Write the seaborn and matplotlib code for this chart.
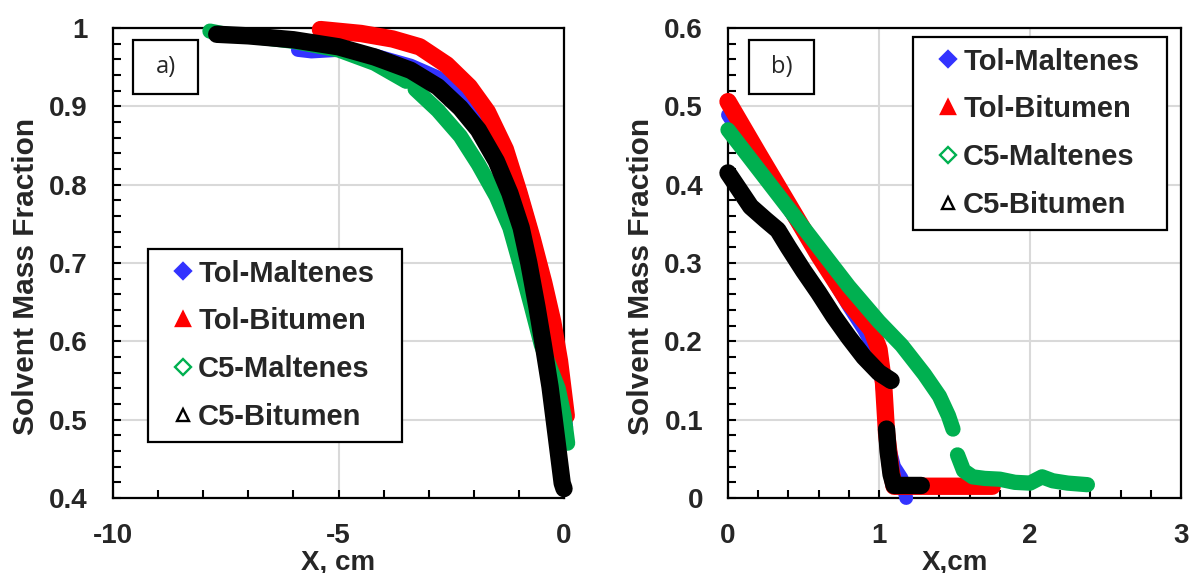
import numpy as np
import pandas as pd
import matplotlib
matplotlib.use("Agg")
import matplotlib.pyplot as plt
from matplotlib.lines import Line2D
from matplotlib.patches import Rectangle
from matplotlib.ticker import MultipleLocator, FixedLocator, FixedFormatter
import seaborn as sns

# ---------------- data ----------------
series_names = ["Tol-Maltenes", "Tol-Bitumen", "C5-Maltenes", "C5-Bitumen"]
series_colors = ["#3333ff", "#ff0000", "#00b050", "#000000"]

# panel a
a_tolmal_x = [-5.9, -5.6, -5.0, -4.2, -3.4, -2.8, -2.2, -1.7, -1.3, -1.0, -0.7, -0.45, -0.2, 0.05]
a_tolmal_y = [0.972, 0.970, 0.972, 0.965, 0.952, 0.937, 0.915, 0.880, 0.840, 0.795, 0.735, 0.675, 0.600, 0.490]
a_tolmal_seg = [0] * 14

a_tolbit_x = [-5.4, -4.5, -3.8, -3.2, -2.6, -2.1, -1.7, -1.3, -1.0, -0.7, -0.45, -0.25, -0.1, 0.05]
a_tolbit_y = [0.998, 0.993, 0.986, 0.976, 0.953, 0.925, 0.893, 0.845, 0.790, 0.730, 0.675, 0.625, 0.575, 0.505]
a_tolbit_seg = [0] * 14

a_c5mal_x = [-7.85, -7.5, -7.0, -6.0, -5.0, -4.2, -3.5, -3.3, -2.8, -2.3, -1.9, -1.5, -1.2, -0.98, -0.72, -0.5, -0.3, -0.13, 0.0, 0.08]
a_c5mal_y = [0.996, 0.992, 0.990, 0.983, 0.972, 0.955, 0.932, 0.922, 0.895, 0.862, 0.826, 0.785, 0.745, 0.700, 0.644, 0.595, 0.565, 0.540, 0.505, 0.470]
a_c5mal_seg = [0] * 7 + [1] * 13

a_c5bit_x = [-7.7, -7.0, -6.0, -5.0, -4.2, -3.4, -2.8, -2.3, -1.9, -1.5, -1.2, -0.95, -0.78, -0.6, -0.46, -0.31, -0.18, -0.04, 0.0]
a_c5bit_y = [0.992, 0.990, 0.985, 0.976, 0.963, 0.946, 0.925, 0.898, 0.870, 0.830, 0.789, 0.745, 0.700, 0.644, 0.596, 0.542, 0.483, 0.419, 0.412]
a_c5bit_seg = [0] * 19

# panel b
b_tolmal_x = [0.0, 0.2, 0.4, 0.6, 0.8, 0.9, 1.0, 1.03, 1.06, 1.1, 1.15, 1.18]
b_tolmal_y = [0.489, 0.43, 0.37, 0.31, 0.245, 0.215, 0.18, 0.13, 0.07, 0.04, 0.025, 0.0]
b_tolmal_seg = [0] * 12

b_tolbit_x = [0.0, 0.2, 0.4, 0.6, 0.8, 0.95, 1.0, 1.03, 1.05, 1.08, 1.1, 1.3, 1.5, 1.75]
b_tolbit_y = [0.506, 0.44, 0.375, 0.31, 0.25, 0.215, 0.19, 0.147, 0.083, 0.035, 0.015, 0.015, 0.015, 0.015]
b_tolbit_seg = [0] * 14

b_c5mal_x = [0.0, 0.2, 0.4, 0.6, 0.8, 1.0, 1.15, 1.3, 1.4, 1.46, 1.49, 1.52, 1.56, 1.62, 1.7, 1.8, 1.9, 2.0, 2.08, 2.15, 2.25, 2.38]
b_c5mal_y = [0.47, 0.42, 0.37, 0.32, 0.27, 0.225, 0.195, 0.158, 0.13, 0.105, 0.088, 0.055, 0.035, 0.027, 0.025, 0.024, 0.02, 0.019, 0.027, 0.022, 0.019, 0.017]
b_c5mal_seg = [0] * 11 + [1] * 11

b_c5bit_x = [0.0, 0.07, 0.15, 0.25, 0.33, 0.4, 0.5, 0.6, 0.7, 0.8, 0.9, 1.0, 1.08, 1.05, 1.06, 1.08, 1.1, 1.2, 1.28]
b_c5bit_y = [0.415, 0.395, 0.372, 0.355, 0.342, 0.32, 0.29, 0.262, 0.232, 0.205, 0.18, 0.16, 0.15, 0.088, 0.06, 0.03, 0.016, 0.016, 0.016]
b_c5bit_seg = [0] * 13 + [1] * 6

a_xticks = [-10, -5, 0]
a_xticklabels = ["-10", "-5", "0"]
a_yticks = [0.4, 0.5, 0.6, 0.7, 0.8, 0.9, 1.0]
a_yticklabels = ["0.4", "0.5", "0.6", "0.7", "0.8", "0.9", "1"]
b_xticks = [0, 1, 2, 3]
b_xticklabels = ["0", "1", "2", "3"]
b_yticks = [0.0, 0.1, 0.2, 0.3, 0.4, 0.5, 0.6]
b_yticklabels = ["0", "0.1", "0.2", "0.3", "0.4", "0.5", "0.6"]

# ---------------- style ----------------
sns.set_style("white")
plt.rcParams["font.family"] = ["Liberation Sans", "DejaVu Sans"]
plt.rcParams["font.weight"] = "bold"

W, H = 1189, 573
fig = plt.figure(figsize=(W / 100, H / 100), dpi=100)

def fig_rect(x0, y0, x1, y1):
    return [x0 / W, 1 - y1 / H, (x1 - x0) / W, (y1 - y0) / H]

A_PX = (113, 28, 564, 498)
B_PX = (728, 28, 1181, 498)
axA = fig.add_axes(fig_rect(*A_PX))
axB = fig.add_axes(fig_rect(*B_PX))

lw_map = [10, 12.5, 11, 12.5]

def draw(ax, data):
    for i, (xs, ys, seg) in enumerate(data):
        df = pd.DataFrame({"x": xs, "y": ys, "seg": seg})
        sns.lineplot(data=df, x="x", y="y", units="seg", estimator=None, sort=False,
                     color=series_colors[i], linewidth=lw_map[i], ax=ax,
                     solid_capstyle="round", solid_joinstyle="round",
                     clip_on=False, zorder=3 + i)

draw(axA, [(a_tolmal_x, a_tolmal_y, a_tolmal_seg), (a_tolbit_x, a_tolbit_y, a_tolbit_seg),
           (a_c5mal_x, a_c5mal_y, a_c5mal_seg), (a_c5bit_x, a_c5bit_y, a_c5bit_seg)])
draw(axB, [(b_tolmal_x, b_tolmal_y, b_tolmal_seg), (b_tolbit_x, b_tolbit_y, b_tolbit_seg),
           (b_c5mal_x, b_c5mal_y, b_c5mal_seg), (b_c5bit_x, b_c5bit_y, b_c5bit_seg)])

def style_axes(ax, xlim, ylim, xt, xtl, yt, ytl, xminor, yminor, xlabel):
    ax.set_xlim(*xlim)
    ax.set_ylim(*ylim)
    ax.xaxis.set_major_locator(FixedLocator(xt))
    ax.xaxis.set_major_formatter(FixedFormatter(xtl))
    ax.yaxis.set_major_locator(FixedLocator(yt))
    ax.yaxis.set_major_formatter(FixedFormatter(ytl))
    ax.xaxis.set_minor_locator(MultipleLocator(xminor))
    ax.yaxis.set_minor_locator(MultipleLocator(yminor))
    ax.grid(True, which="major", color="#d9d9d9", linewidth=1.5, zorder=0)
    ax.set_axisbelow(True)
    for s in ax.spines.values():
        s.set_visible(True)
        s.set_color("black")
        s.set_linewidth(1.6)
    ax.tick_params(which="both", direction="in", length=6, width=1.5, color="black",
                   top=False, right=False, bottom=True, left=True)
    ax.tick_params(axis="x", which="major", labelsize=20, pad=18)
    ax.tick_params(axis="y", which="major", labelsize=20, pad=18)
    for lab in ax.get_xticklabels() + ax.get_yticklabels():
        lab.set_fontweight("bold")
    ax.set_xlabel(xlabel, fontsize=20, fontweight="bold", labelpad=0)
    ax.set_ylabel("Solvent Mass Fraction", fontsize=21.5, fontweight="bold", labelpad=7, y=0.472)

style_axes(axA, (-10, 0), (0.4, 1.0), a_xticks, a_xticklabels, a_yticks, a_yticklabels, 1, 0.02, "X, cm")
style_axes(axB, (0, 3), (0.0, 0.6), b_xticks, b_xticklabels, b_yticks, b_yticklabels, 0.2, 0.02, "X,cm")

markers = ["D", "^", "D", "^"]
fills = [series_colors[0], series_colors[1], "white", "white"]
msizes = [8.5, 10, 8, 9]
handles = [Line2D([], [], linestyle="none", marker=markers[i], markersize=msizes[i],
                  markerfacecolor=fills[i], markeredgecolor=series_colors[i], markeredgewidth=1.7)
           for i in range(4)]

def add_legend(ax, ax_px, box_px):
    ax_x0, ax_y0, ax_x1, ax_y1 = ax_px
    bx0, by0, bx1, by1 = box_px
    aw, ah = ax_x1 - ax_x0, ax_y1 - ax_y0
    anchor = ((bx0 - ax_x0) / aw, (ax_y1 - by1) / ah, (bx1 - bx0) / aw, (by1 - by0) / ah)
    leg = ax.legend(handles, series_names, loc="upper left", bbox_to_anchor=anchor, mode="expand",
                    borderaxespad=0, frameon=True, fancybox=False, framealpha=1,
                    edgecolor="black", handlelength=1.66, handletextpad=-0.3,
                    borderpad=0.36, labelspacing=0.68, markerscale=1.0,
                    prop={"family": "Liberation Sans", "weight": "bold", "size": 21})
    leg.get_frame().set_linewidth(1.6)
    leg.set_zorder(20)

add_legend(axA, A_PX, (148, 249, 402, 441))
add_legend(axB, B_PX, (913, 37, 1167, 227))

def add_tag(ax, text, box_px, ax_px):
    x0, y0, x1, y1 = box_px
    ax_x0, ax_y0, ax_x1, ax_y1 = ax_px
    aw, ah = ax_x1 - ax_x0, ax_y1 - ax_y0
    rx = (x0 - ax_x0) / aw
    ry = (ax_y1 - y1) / ah
    rect = Rectangle((rx, ry), (x1 - x0) / aw, (y1 - y0) / ah, transform=ax.transAxes,
                     facecolor="white", edgecolor="black", linewidth=1.6, zorder=15)
    ax.add_patch(rect)
    ax.text(rx + (x1 - x0) / aw / 2, ry + (y1 - y0) / ah / 2, text, transform=ax.transAxes,
            ha="center", va="center", fontsize=17, fontweight="normal",
            family=["Open Sans", "DejaVu Sans"], zorder=16)

add_tag(axA, "a)", (133, 40, 198, 94), A_PX)
add_tag(axB, "b)", (749, 40, 814, 94), B_PX)

fig.savefig("out.png", dpi=100)
